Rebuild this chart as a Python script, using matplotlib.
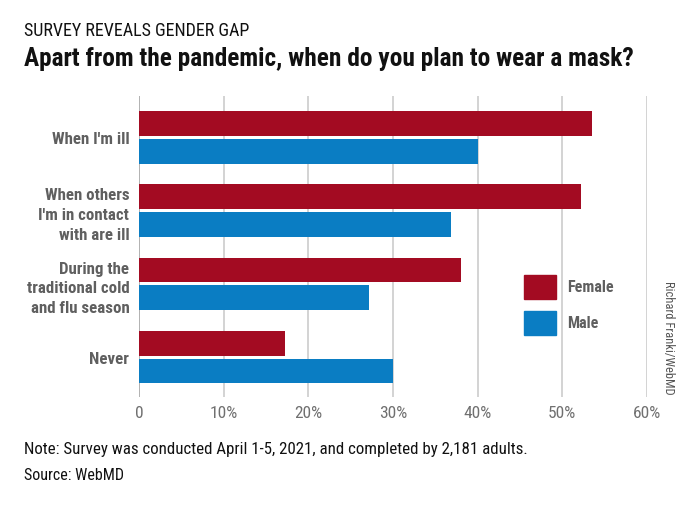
import matplotlib.pyplot as plt
from matplotlib.patches import Rectangle
from matplotlib import font_manager

categories = ["When I'm ill",
              "When others\nI'm in contact\nwith are ill",
              "During the\ntraditional cold\nand flu season",
              "Never"]
female = [53.5, 52.2, 38.0, 17.3]
male = [40.0, 36.8, 27.2, 30.0]
tick_vals = [0, 10, 20, 30, 40, 50, 60]
tick_labels = ['0', '10%', '20%', '30%', '40%', '50%', '60%']

names = {f.name for f in font_manager.fontManager.ttflist}
narrow = 'DejaVu Sans'
for cand in ['Roboto Condensed', 'Archivo Narrow', 'PT Sans Narrow',
             'Liberation Sans Narrow', 'Open Sans Condensed', 'Pragati Narrow']:
    if cand in names:
        narrow = cand
        break
plt.rcParams['font.family'] = [narrow, 'DejaVu Sans']

RED = '#A30B22'
BLUE = '#0A7DC3'
GRAY = '#5f5f5f'

W, H = 690, 506
fig = plt.figure(figsize=(W / 100, H / 100), dpi=100)
ax = fig.add_axes([139 / W, 1 - 398 / H, (647 - 139) / W, (398 - 97) / H])

y = list(range(len(categories)))
off = 0.19
ax.barh([v - off for v in y], female, height=0.34, color=RED, zorder=3)
ax.barh([v + off for v in y], male, height=0.34, color=BLUE, zorder=3)

ax.set_xlim(0, 60)
ax.set_ylim(3.546, -0.567)
ax.set_xticks(tick_vals)
ax.set_xticklabels(tick_labels, fontsize=12.5, color='#707070')
ax.set_yticks(y)
ax.set_yticklabels(categories, fontsize=12.2, color=GRAY, fontweight='bold',
                   linespacing=1.38)
ax.tick_params(axis='x', length=0, pad=6)
ax.tick_params(axis='y', length=0, pad=7)
ax.xaxis.grid(True, color='#d0d0d0', linewidth=1.3, zorder=0)
ax.set_axisbelow(True)
for s in ax.spines.values():
    s.set_visible(False)
ax.axvline(0, color='#b0b0b0', linewidth=1.3, zorder=1)

# legend
for label, col, yt in [('Female', RED, 288), ('Male', BLUE, 324)]:
    fig.patches.append(Rectangle((524 / W, 1 - (yt + 12) / H), 32 / W, 24 / H,
                                 transform=fig.transFigure, color=col))
    fig.text(567 / W, 1 - yt / H, label, fontsize=11.5, color=GRAY,
             fontweight='bold', va='center', ha='left')

fig.text(668 / W, 1 - 338 / H, 'Richard Franki/WebMD', rotation=270,
         fontsize=9, color='#555555', ha='center', va='center')

fig.text(24 / W, 1 - 31 / H, 'SURVEY REVEALS GENDER GAP', fontsize=13,
         color='#111111', va='center')
fig.text(24 / W, 1 - 59 / H, 'Apart from the pandemic, when do you plan to wear a mask?',
         fontsize=18.3, fontweight='bold', color='#111111', va='center')
fig.text(24 / W, 1 - 450 / H,
         'Note: Survey was conducted April 1-5, 2021, and completed by 2,181 adults.',
         fontsize=12.2, color='#111111', va='center')
fig.text(24 / W, 1 - 476 / H, 'Source: WebMD', fontsize=11.5, color='#111111',
         va='center')

fig.savefig('out.png', dpi=100)
